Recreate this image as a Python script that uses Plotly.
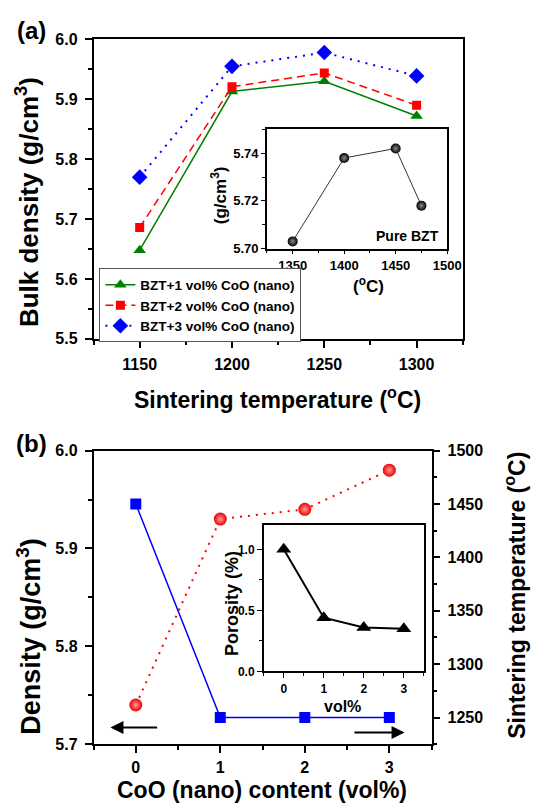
import plotly.graph_objects as go

# ---------------- data ----------------
temp_a = [1150, 1200, 1250, 1300]
bzt1 = [5.648, 5.913, 5.930, 5.872]
bzt2 = [5.686, 5.921, 5.944, 5.890]
bzt3 = [5.770, 5.955, 5.978, 5.939]
legend_names = ["BZT+1 vol% CoO (nano)", "BZT+2 vol% CoO (nano)", "BZT+3 vol% CoO (nano)"]

pure_temp = [1350, 1400, 1450, 1475]
pure_density = [5.703, 5.738, 5.742, 5.718]

content = [0, 1, 2, 3]
density_b = [5.740, 5.930, 5.940, 5.980]
sinter_temp_b = [1450, 1250, 1250, 1250]
porosity = [1.0, 0.44, 0.36, 0.35]

# ---------------- layout helpers ----------------
W, H = 543, 811
def px(x):
    return x / W
def py(y):
    return 1 - y / H

FONT = "Liberation Sans, Arial, sans-serif"
BLACK = "black"

def axis_style(size, **kw):
    d = dict(showline=True, linecolor=BLACK, linewidth=1.5, mirror=True,
             ticks="outside", ticklen=7, tickwidth=1.5, tickcolor=BLACK,
             showgrid=False, zeroline=False,
             tickfont=dict(size=size, family=FONT, color=BLACK, weight="bold"))
    d.update(kw)
    return d

def minor(dt, ln=4, w=1.5):
    return dict(dtick=dt, ticks="outside", ticklen=ln, tickwidth=w, tickcolor=BLACK)

fig = go.Figure()

# panel (a)
fig.add_trace(go.Scatter(x=temp_a, y=bzt1, name=legend_names[0], mode="lines+markers",
                         line=dict(color="#008000", width=1.5),
                         marker=dict(symbol="triangle-up", size=11, color="#008000"),
                         xaxis="x", yaxis="y"))
fig.add_trace(go.Scatter(x=temp_a, y=bzt2, name=legend_names[1], mode="lines+markers",
                         line=dict(color="#ff0000", width=1.5, dash="8px,5px"),
                         marker=dict(symbol="square", size=9, color="#ff0000"),
                         xaxis="x", yaxis="y"))
fig.add_trace(go.Scatter(x=temp_a, y=bzt3, name=legend_names[2], mode="lines+markers",
                         line=dict(color="#0000ff", width=2, dash="2px,6px"),
                         marker=dict(symbol="diamond", size=12, color="#0000ff"),
                         xaxis="x", yaxis="y"))
# inset (a)
fig.add_trace(go.Scatter(x=pure_temp, y=pure_density, mode="lines+markers", showlegend=False,
                         line=dict(color="#333333", width=1),
                         marker=dict(symbol="circle", size=10, color="black",
                                     gradient=dict(type="radial", color="#8a8a8a")),
                         xaxis="x3", yaxis="y3"))
# panel (b)
fig.add_trace(go.Scatter(x=content, y=sinter_temp_b, mode="lines+markers", showlegend=False,
                         line=dict(color="#0000ff", width=1.5),
                         marker=dict(symbol="square", size=11, color="#0000ff"),
                         xaxis="x2", yaxis="y4"))
fig.add_trace(go.Scatter(x=content, y=density_b, mode="lines+markers", showlegend=False,
                         line=dict(color="#ff0000", width=2, dash="2px,6px"),
                         marker=dict(symbol="circle", size=13, color="#ee0000",
                                     gradient=dict(type="radial", color="#ff9a9a")),
                         xaxis="x2", yaxis="y2"))
# inset (b)
fig.add_trace(go.Scatter(x=content, y=porosity, mode="lines+markers", showlegend=False,
                         line=dict(color="black", width=2),
                         marker=dict(symbol="triangle-up", size=13, color="black"),
                         xaxis="x5", yaxis="y5"))

eps = 1e-4
fig.update_layout(
    width=W, height=H, margin=dict(l=0, r=0, t=0, b=0),
    paper_bgcolor="white", plot_bgcolor="rgba(0,0,0,0)",
    font=dict(family=FONT, color=BLACK, weight="bold"),
    xaxis=axis_style(16, domain=[px(96), px(475)], anchor="y", range=[1125, 1325],
                     dtick=50, minor=minor(25), ticklabelstandoff=3),
    yaxis=axis_style(16, domain=[py(338), py(32)], anchor="x", range=[5.5 - eps, 6.0 + eps],
                     dtick=0.1, tickformat=".1f", minor=minor(0.05), ticklabelstandoff=4),
    xaxis3=axis_style(13, domain=[px(274), px(459)], anchor="y3", range=[1325, 1500 + 0.01],
                      dtick=50, ticklen=4, tickwidth=1, minor=minor(25, 3, 1)),
    yaxis3=axis_style(13, domain=[py(245.7), py(124)], anchor="x3", range=[5.70 - 1e-5, 5.75],
                      dtick=0.02, tick0=5.70, tickformat=".2f", ticklen=4, tickwidth=1,
                      minor=minor(0.01, 3, 1)),
    xaxis2=axis_style(16, domain=[px(96), px(443)], anchor="y2", range=[-0.5, 3.5],
                      dtick=1, minor=minor(0.5), ticklabelstandoff=1),
    yaxis2=axis_style(16, domain=[py(752), py(452)], anchor="x2", range=[5.7 - eps, 6.0 + eps],
                      dtick=0.1, tickformat=".1f", minor=minor(0.05), ticklabelstandoff=4),
    yaxis4=axis_style(16, overlaying="y2", side="right", anchor="x2", range=[1225, 1500 + 0.01],
                      dtick=50, mirror=False, minor=minor(25), ticklabelstandoff=4),
    xaxis5=axis_style(12, domain=[px(270.7), px(435)], anchor="y5", range=[-0.5, 3.5],
                      dtick=1, ticklen=5, tickwidth=1, minor=minor(0.5, 3, 1)),
    yaxis5=axis_style(12, domain=[py(677.7), py(528)], anchor="x5", range=[0 - 1e-4, 1.2],
                      dtick=0.5, tickformat=".1f", ticklen=5, tickwidth=1,
                      minor=minor(0.25, 3, 1)),
    legend=dict(x=px(102), y=py(266), xanchor="left", yanchor="top",
                bgcolor="white", bordercolor="#555555", borderwidth=1,
                font=dict(size=13.5, family=FONT, color=BLACK, weight="bold"),
                tracegroupgap=0, itemwidth=30),
)

def note(text, x, y, size, angle=0, xanchor="center"):
    fig.add_annotation(text=text, x=px(x), y=py(y), xref="paper", yref="paper",
                       showarrow=False, textangle=angle, xanchor=xanchor, yanchor="middle",
                       font=dict(size=size, family=FONT, color=BLACK, weight="bold"))

note("(a)", 32, 23, 24)
note("(b)", 32, 445, 24)
note("Bulk density (g/cm<sup>3</sup>)", 29, 198, 26, -90)
note("Sintering temperature (<sup>o</sup>C)", 285, 398, 23)
note("(g/cm<sup>3</sup>)", 225, 191, 17, -90)
note("(<sup>o</sup>C)", 378, 283, 17)
note("Pure BZT", 453, 232.5, 14, xanchor="right")
note("Density (g/cm<sup>3</sup>)", 29, 642, 27, -90)
note("Sintering temperature (<sup>o</sup>C)", 529, 600, 23, -90)
note("CoO (nano) content (vol%)", 269, 799, 23)
note("Porosity (%)", 238, 608, 18, -90)
note("vol%", 352, 713, 16)

# direction arrows in panel (b)
arrow_left = dict(head=(-0.30, 5.717), tail=(0.27, 5.717))
arrow_right = dict(head=(3.18, 5.712), tail=(2.57, 5.712))
for arr in (arrow_left, arrow_right):
    fig.add_annotation(x=arr["head"][0], y=arr["head"][1], ax=arr["tail"][0], ay=arr["tail"][1],
                       xref="x2", yref="y2", axref="x2", ayref="y2", text="",
                       showarrow=True, arrowhead=2, arrowsize=1.3, arrowwidth=2, arrowcolor=BLACK)

# remove the browser's default page margin so the figure fills the window exactly
fig.write_html("out.html", config={"displayModeBar": False},
               post_script="document.body.style.margin='0';document.body.style.overflow='hidden';")
